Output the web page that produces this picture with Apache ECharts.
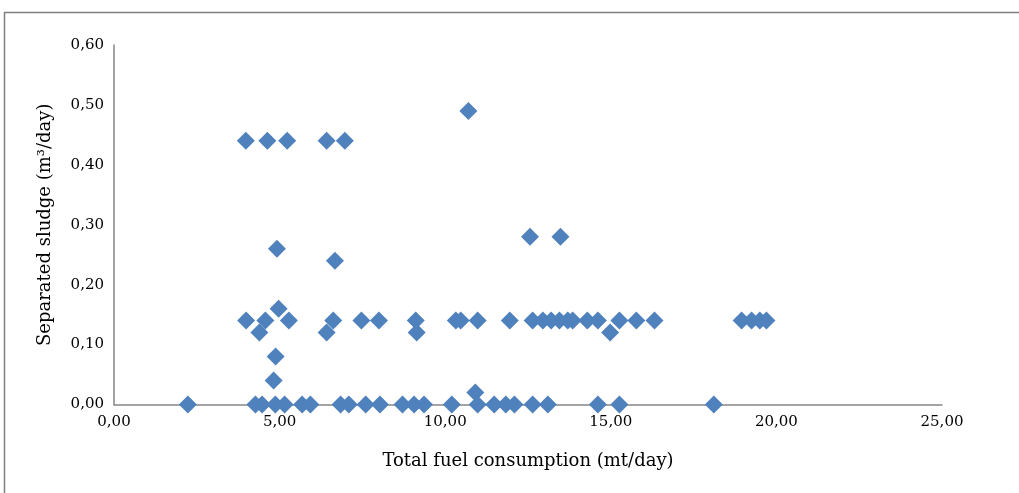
<!DOCTYPE html>
<html>
<head>
<meta charset="utf-8">
<script src="https://cdn.jsdelivr.net/npm/echarts@6/dist/echarts.min.js"></script>
<style>
html,body{margin:0;padding:0;background:#fff;}
#c{width:1019px;height:493px;}
</style>
</head>
<body>
<div id="c"></div>
<script>
// Data: x = total fuel consumption (mt/day), y = separated sludge (m3/day)
const xValues = [
  10.70,
  3.98, 4.63, 5.23, 6.42, 6.97,
  12.56, 13.48,
  4.92,
  6.67,
  4.97,
  3.99, 4.57, 5.28, 6.62, 7.47, 8.00, 9.11, 10.32, 10.47, 10.98, 11.95, 12.64, 12.95, 13.20, 13.45, 13.70, 13.85, 14.29, 14.61, 15.26, 15.77, 16.32, 18.95, 19.25, 19.50, 19.70,
  4.39, 6.42, 9.14, 14.98,
  4.88,
  4.82,
  10.91,
  2.23, 4.27, 4.47, 4.87, 5.15, 5.68, 5.93, 6.84, 7.09, 7.60, 8.03, 8.71, 9.06, 9.36, 10.20, 10.98, 11.48, 11.83, 12.09, 12.64, 13.10, 14.61, 15.26, 18.11
];
const yValues = [
  0.49,
  0.44, 0.44, 0.44, 0.44, 0.44,
  0.28, 0.28,
  0.26,
  0.24,
  0.16,
  0.14, 0.14, 0.14, 0.14, 0.14, 0.14, 0.14, 0.14, 0.14, 0.14, 0.14, 0.14, 0.14, 0.14, 0.14, 0.14, 0.14, 0.14, 0.14, 0.14, 0.14, 0.14, 0.14, 0.14, 0.14, 0.14,
  0.12, 0.12, 0.12, 0.12,
  0.08,
  0.04,
  0.02,
  0, 0, 0, 0, 0, 0, 0, 0, 0, 0, 0, 0, 0, 0, 0, 0, 0, 0, 0, 0, 0, 0, 0, 0
];
const xTitle = 'Total fuel consumption (mt/day)';
const yTitle = 'Separated sludge (m³/day)';

const points = xValues.map((x, i) => [x, yValues[i]]);
const fmt = v => v.toFixed(2).replace('.', ',');
const FONT = 'DejaVu Serif';

const chart = echarts.init(document.getElementById('c'), null, {renderer: 'canvas'});
chart.setOption({
  animation: false,
  backgroundColor: '#fff',
  graphic: [{
    type: 'rect',
    shape: {x: 4.5, y: 12.5, width: 1100, height: 600},
    style: {fill: 'none', stroke: '#7f7f7f', lineWidth: 1.5},
    silent: true
  }],
  grid: {left: 114, right: 77, top: 45, bottom: 88.5},
  xAxis: {
    type: 'value', min: 0, max: 25, interval: 5,
    name: xTitle, nameLocation: 'middle', nameGap: 48,
    nameTextStyle: {fontFamily: FONT, fontSize: 18, color: '#000'},
    axisLine: {show: true, lineStyle: {color: '#868686', width: 1.5}},
    axisTick: {show: false},
    splitLine: {show: false},
    axisLabel: {formatter: fmt, fontFamily: FONT, fontSize: 15, color: '#000', margin: 10}
  },
  yAxis: {
    type: 'value', min: 0, max: 0.6, interval: 0.1,
    name: yTitle, nameLocation: 'middle', nameGap: 60, nameRotate: 90,
    nameTextStyle: {fontFamily: FONT, fontSize: 18, color: '#000'},
    axisLine: {show: true, lineStyle: {color: '#868686', width: 1.5}},
    axisTick: {show: false},
    splitLine: {show: false},
    axisLabel: {formatter: fmt, fontFamily: FONT, fontSize: 15, color: '#000', margin: 10}
  },
  series: [{
    type: 'scatter',
    data: points,
    symbol: 'diamond',
    symbolSize: 18,
    itemStyle: {color: '#4F81BD', opacity: 1},
    emphasis: {disabled: true}
  }]
});
</script>
</body>
</html>
